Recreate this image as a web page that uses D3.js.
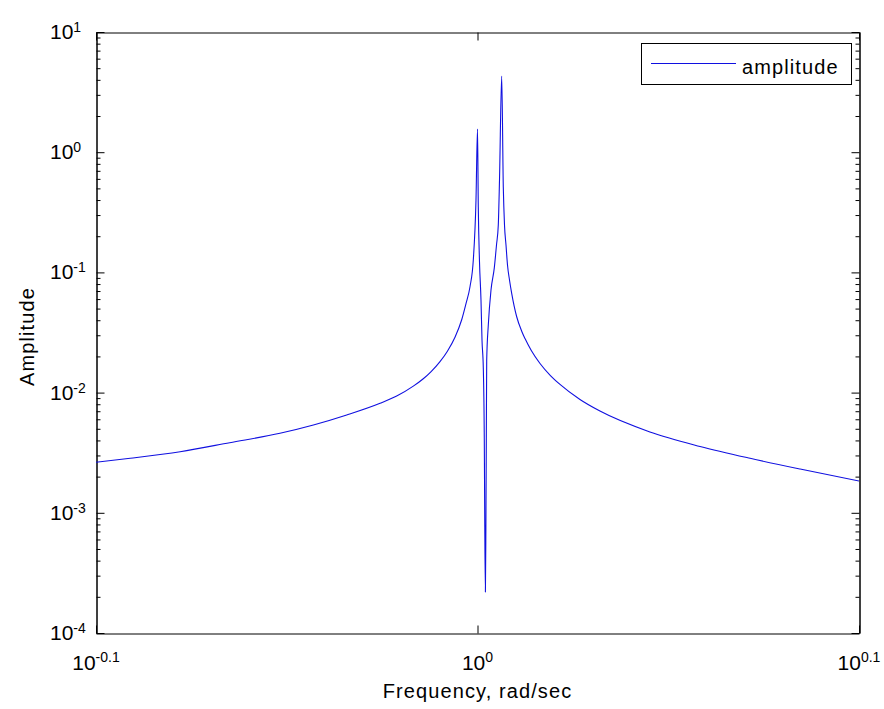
<!DOCTYPE html>
<html>
<head>
<meta charset="utf-8">
<script src="https://cdn.jsdelivr.net/npm/d3@7"></script>
<style>
  html, body { margin: 0; padding: 0; background: #ffffff; }
  svg { display: block; }
  text { font-family: "Liberation Sans", Arial, Helvetica, sans-serif; fill: #000; }
</style>
</head>
<body>
<svg id="chart" width="884" height="709"></svg>
<script>
// ---- data ----
const frequency = [0.7943, 0.8109, 0.8357, 0.8611, 0.8876, 0.9057, 0.9241, 0.9429, 0.9524, 0.9620,
  0.9678, 0.9724, 0.97762, 0.9820, 0.98651, 0.99051, 0.99308, 0.99548, 0.99747, 0.99909, 1.0000, 1.00048,
  1.00121, 1.00211, 1.00272, 1.00351, 1.00411, 1.00441, 1.00478, 1.00508, 1.00533, 1.00557,
  1.00654, 1.00818, 1.01019, 1.01153, 1.01263, 1.01337, 1.01471, 1.01569, 1.01643, 1.01735,
  1.01827, 1.01950, 1.02085, 1.02394, 1.02704, 1.02909, 1.0330, 1.03845, 1.0450, 1.05106, 1.06380, 1.07670,
  1.10966, 1.14376, 1.17884, 1.21497, 1.25893];
const amplitude = [0.00263, 0.00284, 0.003224, 0.003831, 0.004586, 0.005375, 0.006512, 0.008147, 0.009369, 0.01132,
  0.01304, 0.01496, 0.01810, 0.02211, 0.02891, 0.04036, 0.0549, 0.0760, 0.1268, 0.4002, 1.56, 0.3500,
  0.1221, 0.05894, 0.02739, 0.01602, 0.004034, 0.000762, 0.0002194, 0.000762, 0.004034, 0.01867,
  0.03651, 0.07140, 0.1090, 0.1690, 0.2479, 0.5871, 4.304, 0.5135, 0.2479, 0.1690,
  0.1152, 0.08647, 0.06700, 0.04275, 0.03241, 0.02814, 0.0224, 0.01747, 0.01386, 0.01169, 0.008758, 0.007016,
  0.004705, 0.003566, 0.00284, 0.002312, 0.001839];
const seriesName = "amplitude";
const xTickExponents = ["-0.1", "0", "0.1"];
const yTickExponents = ["-4", "-3", "-2", "-1", "0", "1"];
const xLabel = "Frequency, rad/sec";
const yLabel = "Amplitude";

// ---- layout ----
const L = 96, R = 859, T = 32, B = 633;
const svg = d3.select("#chart");

const x = d3.scaleLog().domain([Math.pow(10, -0.1), Math.pow(10, 0.1)]).range([L, R]);
const y = d3.scaleLog().domain([1e-4, 10]).range([B, T]);

const xMajor = xTickExponents.map(e => Math.pow(10, +e));
const yMajor = yTickExponents.map(e => Math.pow(10, +e));
const yMinor = [];
yMajor.slice(0, -1).forEach(d => { for (let k = 2; k <= 9; k++) yMinor.push(d * k); });

function styleAxis(g) {
  g.selectAll("path.domain").attr("stroke", "#000").attr("stroke-width", 1);
  g.selectAll(".tick line").attr("stroke", "#000").attr("stroke-width", 1);
  g.selectAll(".tick text").remove();
}

// Left axis
svg.append("g").attr("transform", `translate(${L + 0.5},0)`)
  .call(d3.axisLeft(y).tickValues(yMajor).tickSizeInner(-8).tickSizeOuter(0).tickFormat(""))
  .call(styleAxis);
svg.append("g").attr("transform", `translate(${L + 0.5},0)`)
  .call(d3.axisLeft(y).tickValues(yMinor).tickSizeInner(-4).tickSizeOuter(0).tickFormat(""))
  .call(styleAxis);
// Right axis
svg.append("g").attr("transform", `translate(${R + 0.5},0)`)
  .call(d3.axisRight(y).tickValues(yMajor).tickSizeInner(-8).tickSizeOuter(0).tickFormat(""))
  .call(styleAxis);
svg.append("g").attr("transform", `translate(${R + 0.5},0)`)
  .call(d3.axisRight(y).tickValues(yMinor).tickSizeInner(-4).tickSizeOuter(0).tickFormat(""))
  .call(styleAxis);
// Bottom axis
svg.append("g").attr("transform", `translate(0,${B + 0.5})`)
  .call(d3.axisBottom(x).tickValues(xMajor).tickSizeInner(-8).tickSizeOuter(0).tickFormat(""))
  .call(styleAxis);
// Top axis
svg.append("g").attr("transform", `translate(0,${T + 0.5})`)
  .call(d3.axisTop(x).tickValues(xMajor).tickSizeInner(-8).tickSizeOuter(0).tickFormat(""))
  .call(styleAxis);

// Tick labels (10 with superscript)
const yLab = svg.append("g");
yTickExponents.forEach((e, i) => {
  const py = y(yMajor[i]);
  const t = yLab.append("text").attr("x", 50).attr("y", py + 7).style("font-size", "21px");
  t.append("tspan").text("10");
  t.append("tspan").attr("dy", -7).style("font-size", "14px").text(e);
});
const xLab = svg.append("g");
xTickExponents.forEach((e, i) => {
  const px = x(xMajor[i]);
  const t = xLab.append("text").attr("x", px).attr("y", B + 37)
    .attr("text-anchor", "middle").style("font-size", "21px");
  t.append("tspan").text("10");
  t.append("tspan").attr("dy", -8).style("font-size", "14px").text(e);
});

// Axis titles
svg.append("text").attr("x", (L + R) / 2).attr("y", 698).attr("text-anchor", "middle")
  .style("font-size", "20px").style("letter-spacing", "1.1px").text(xLabel);
svg.append("text").attr("transform", `translate(34,${(T + B) / 2 + 4}) rotate(-90)`)
  .attr("text-anchor", "middle").style("font-size", "20px").style("letter-spacing", "1.1px").text(yLabel);

// Clip + line
svg.append("clipPath").attr("id", "clip").append("rect")
  .attr("x", L).attr("y", T).attr("width", R - L).attr("height", B - T);
const pts = frequency.map((f, i) => [f, amplitude[i]]);
const line = d3.line().x(d => x(d[0])).y(d => y(d[1])).curve(d3.curveMonotoneX);
svg.append("path").attr("clip-path", "url(#clip)").datum(pts)
  .attr("d", line).attr("fill", "none").attr("stroke", "#1010e0").attr("stroke-width", 1.1);

// Legend
const lg = svg.append("g");
lg.append("rect").attr("x", 641.5).attr("y", 43.5).attr("width", 210).attr("height", 41)
  .attr("fill", "#fff").attr("stroke", "#000").attr("stroke-width", 1);
lg.append("line").attr("x1", 651).attr("x2", 736).attr("y1", 63.5).attr("y2", 63.5)
  .attr("stroke", "#1010e0").attr("stroke-width", 1.1);
lg.append("text").attr("x", 742).attr("y", 74).style("font-size", "20px")
  .style("letter-spacing", "1.1px").text(seriesName);
</script>
</body>
</html>
